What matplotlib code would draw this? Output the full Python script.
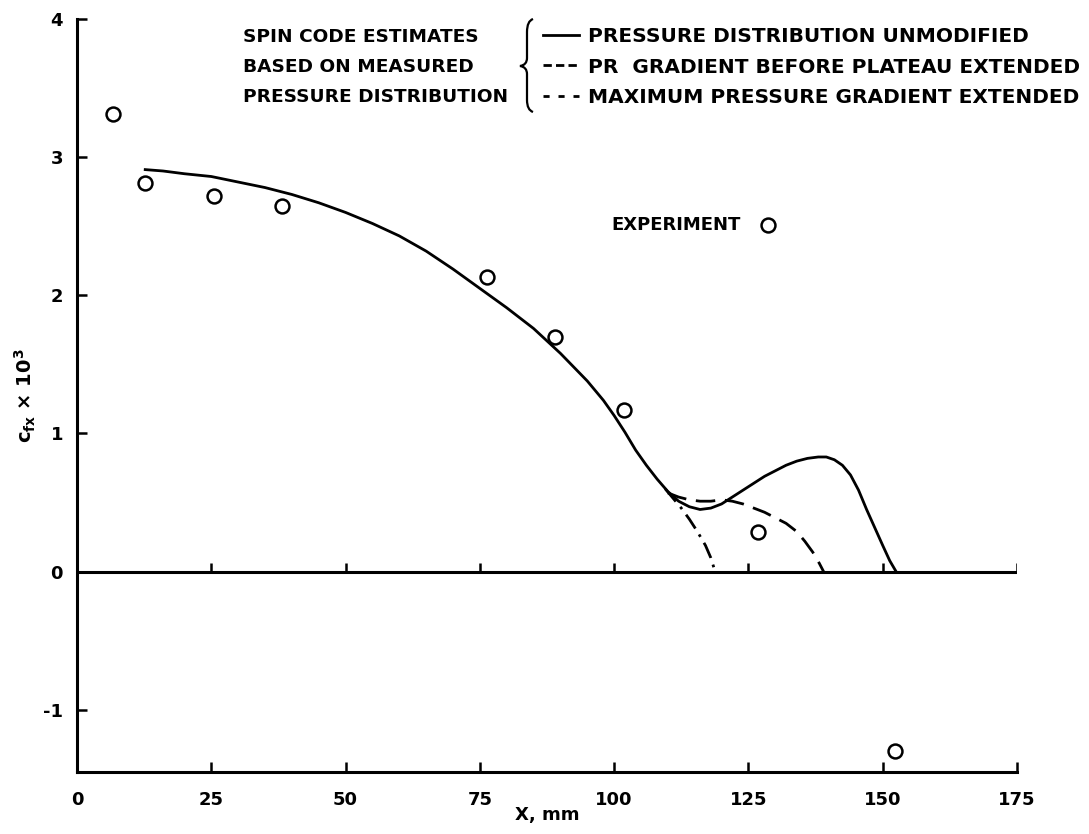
import matplotlib
matplotlib.use("Agg")
from matplotlib import pyplot as plt
from matplotlib.lines import Line2D
from matplotlib.path import Path
from matplotlib.patches import PathPatch

# experiment (open circles)
x_exp = [6.7, 12.7, 25.5, 38.2, 76.3, 89.0, 101.8, 126.8, 152.3]
y_exp = [3.31, 2.81, 2.72, 2.65, 2.13, 1.70, 1.17, 0.29, -1.30]

# spin code: pressure distribution unmodified
x_unmod = [12.7, 16, 20, 25, 30, 35, 40, 45, 50, 55, 60, 65, 70, 75, 80, 85, 90, 95, 98,
           100, 102, 104, 106, 108, 110, 112, 114, 116, 118, 120, 122, 124, 126, 128, 130,
           132, 134, 136, 138, 139.5, 141, 142.5, 144, 145.5, 147, 148.5, 150, 151.3, 152.5]
y_unmod = [2.91, 2.90, 2.88, 2.86, 2.82, 2.78, 2.73, 2.67, 2.60, 2.52, 2.43, 2.32, 2.19,
           2.05, 1.91, 1.76, 1.58, 1.38, 1.24, 1.13, 1.01, 0.88, 0.77, 0.67, 0.58, 0.51,
           0.47, 0.45, 0.46, 0.49, 0.54, 0.59, 0.64, 0.69, 0.73, 0.77, 0.80, 0.82, 0.83,
           0.83, 0.81, 0.77, 0.70, 0.59, 0.45, 0.32, 0.19, 0.08, 0.0]

# pr gradient before plateau extended
x_pr = [110, 112, 114, 116, 118, 120, 122, 124, 126, 128, 130, 132, 134, 135.5, 137,
        138.2, 139]
y_pr = [0.57, 0.54, 0.52, 0.51, 0.51, 0.52, 0.51, 0.49, 0.46, 0.43, 0.39, 0.35, 0.29,
        0.22, 0.14, 0.06, 0.0]

# maximum pressure gradient extended
x_max = [109.5, 111, 112.5, 114, 115.5, 117, 118, 118.8]
y_max = [0.60, 0.53, 0.46, 0.38, 0.29, 0.19, 0.10, 0.0]

# key marker for "EXPERIMENT"
x_key, y_key = 128.6, 2.51

x_ticks = [0, 25, 50, 75, 100, 125, 150, 175]
y_ticks = [-1, 0, 1, 2, 3, 4]

left_text = ["SPIN CODE ESTIMATES", "BASED ON MEASURED", "PRESSURE DISTRIBUTION"]
legend_labels = ["PRESSURE DISTRIBUTION UNMODIFIED",
                 "PR  GRADIENT BEFORE PLATEAU EXTENDED",
                 "MAXIMUM PRESSURE GRADIENT EXTENDED"]

plt.rcParams['font.family'] = ['DejaVu Sans']
plt.rcParams['font.weight'] = 'bold'
plt.rcParams['axes.labelweight'] = 'bold'
plt.rcParams['mathtext.default'] = 'bf'

W, H = 1089, 834
fig = plt.figure(figsize=(W / 100, H / 100), dpi=100)
ax = fig.add_axes([77 / W, 1 - 772 / H, 940 / W, 753 / H])

lw = 2.0
ax.plot(x_unmod, y_unmod, color='k', lw=lw, solid_joinstyle='round')
ax.plot(x_pr, y_pr, color='k', lw=lw, linestyle=(0, (7, 3.5)))
ax.plot(x_max, y_max, color='k', lw=lw, linestyle=(0, (6, 2.5, 1, 2.5)))
ax.plot(x_exp, y_exp, 'o', ms=10, mfc='white', mec='k', mew=1.8, ls='none')

# key marker + label
ax.plot([x_key], [y_key], 'o', ms=10, mfc='white', mec='k', mew=1.8)
ax.annotate("EXPERIMENT", (x_key, y_key), xytext=(-27, 0), textcoords='offset pixels',
            ha='right', va='center', fontsize=13)

# zero line with upward ticks
ax.axhline(0, color='k', lw=2.2)
ax.vlines(x_ticks, 0, 0.065, color='k', lw=1.8)

ax.set_xlim(0, 175)
ax.set_ylim(-1.45, 4.0)
ax.set_xticks(x_ticks)
ax.set_yticks(y_ticks)
ax.set_yticklabels([str(v) for v in y_ticks])
for s in ['top', 'right']:
    ax.spines[s].set_visible(False)
for s in ['left', 'bottom']:
    ax.spines[s].set_linewidth(2.2)
ax.tick_params(axis='both', direction='in', length=7, width=1.8, labelsize=13)
ax.tick_params(axis='x', pad=14)
ax.tick_params(axis='y', pad=10)

ax.set_xlabel("X, mm", fontsize=13)
ax.xaxis.set_label_coords(0.5, -0.045)
ax.set_ylabel(r"c$_{\mathbf{fx}}$ × 10$^{\mathbf{3}}$", fontsize=14)
ax.yaxis.set_label_coords(-0.0415, 0.5)

# left block of the key
for i, t in enumerate(left_text):
    fig.text(243 / W, 1 - (37 + 30 * i) / H, t, ha='left', va='center', fontsize=13.3)

# brace
bx, tip = 533, 520
verts = [(bx, 19), (527, 21), (527, 32), (527, 58), (527, 65), (tip, 66),
         (527, 67), (527, 74), (527, 100), (527, 110), (bx, 112)]
codes = [Path.MOVETO, Path.CURVE3, Path.CURVE3, Path.LINETO, Path.CURVE3, Path.CURVE3,
         Path.CURVE3, Path.CURVE3, Path.LINETO, Path.CURVE3, Path.CURVE3]
verts = [(x / W, 1 - y / H) for x, y in verts]
fig.add_artist(PathPatch(Path(verts, codes), transform=fig.transFigure,
                         fill=False, lw=1.6, color='k'))

handles = [Line2D([], [], color='k', lw=lw),
           Line2D([], [], color='k', lw=lw, linestyle=(0, (3, 1.5))),
           Line2D([], [], color='k', lw=lw, linestyle=(0, (2.2, 3.2)))]
fig.legend(handles, legend_labels, loc='center left', bbox_to_anchor=(543 / W, 1 - 67 / H),
           frameon=False, fontsize=14.5, handlelength=1.8, handletextpad=0.42,
           labelspacing=0.56, borderpad=0, borderaxespad=0)

fig.savefig("out.png", dpi=100)
